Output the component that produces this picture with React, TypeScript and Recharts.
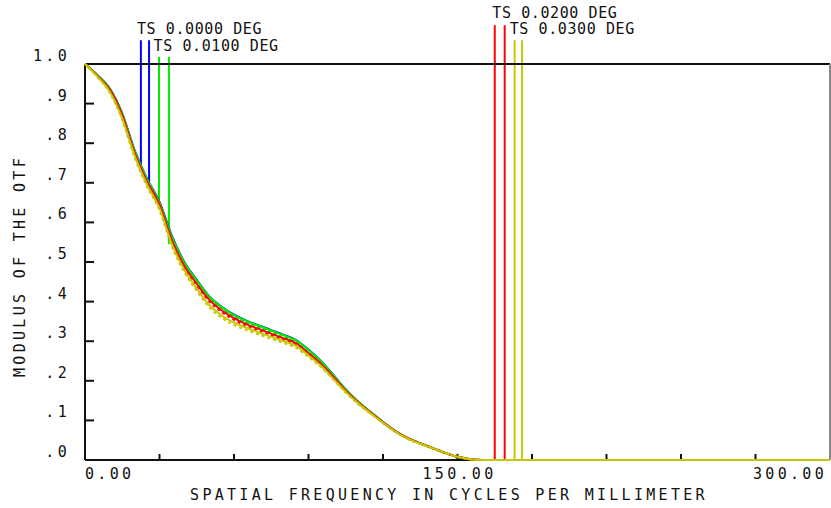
import React from "react";
import {
  ComposedChart,
  Line,
  XAxis,
  YAxis,
  ReferenceLine,
  ReferenceDot,
} from "recharts";

// spatial frequency samples (cycles/mm)
const freq = [0, 5, 10, 15, 20, 25, 30, 35, 40, 45, 50, 55, 60, 65, 70, 75, 80, 85, 90, 95, 100, 105, 110, 115, 120, 125, 130, 135, 140, 145, 150, 155, 160, 300];

// MTF per field, T = tangential, S = sagittal
const blueT = [1.0, 0.972, 0.938, 0.875, 0.782, 0.71, 0.652, 0.566, 0.5, 0.455, 0.414, 0.387, 0.367, 0.352, 0.34, 0.328, 0.316, 0.303, 0.279, 0.25, 0.215, 0.178, 0.147, 0.121, 0.096, 0.073, 0.055, 0.042, 0.03, 0.018, 0.008, 0.002, 0, 0];
const blueS = [1.0, 0.971, 0.936, 0.872, 0.779, 0.707, 0.649, 0.562, 0.497, 0.452, 0.411, 0.384, 0.364, 0.349, 0.337, 0.325, 0.313, 0.3, 0.276, 0.248, 0.213, 0.177, 0.146, 0.12, 0.095, 0.072, 0.055, 0.042, 0.03, 0.018, 0.008, 0.002, 0, 0];
const greenT = [1.0, 0.972, 0.937, 0.874, 0.781, 0.709, 0.65, 0.564, 0.499, 0.454, 0.413, 0.386, 0.366, 0.351, 0.339, 0.327, 0.315, 0.302, 0.278, 0.25, 0.214, 0.178, 0.147, 0.121, 0.096, 0.073, 0.055, 0.042, 0.03, 0.018, 0.008, 0.002, 0, 0];
const greenS = [1.0, 0.97, 0.935, 0.871, 0.777, 0.705, 0.647, 0.56, 0.495, 0.45, 0.409, 0.382, 0.362, 0.347, 0.335, 0.323, 0.311, 0.298, 0.274, 0.247, 0.212, 0.176, 0.146, 0.12, 0.095, 0.072, 0.055, 0.042, 0.03, 0.018, 0.008, 0.002, 0, 0];
const redT = [1.0, 0.97, 0.935, 0.87, 0.775, 0.703, 0.645, 0.555, 0.49, 0.445, 0.405, 0.378, 0.358, 0.343, 0.331, 0.319, 0.307, 0.295, 0.27, 0.243, 0.21, 0.175, 0.145, 0.12, 0.095, 0.073, 0.055, 0.042, 0.03, 0.018, 0.008, 0.002, 0, 0];
const redS = [1.0, 0.969, 0.933, 0.867, 0.772, 0.699, 0.641, 0.551, 0.486, 0.441, 0.401, 0.374, 0.354, 0.339, 0.327, 0.315, 0.303, 0.291, 0.267, 0.241, 0.208, 0.174, 0.144, 0.119, 0.094, 0.072, 0.054, 0.041, 0.03, 0.018, 0.008, 0.002, 0, 0];
const yellowT = [1.0, 0.968, 0.93, 0.862, 0.768, 0.695, 0.636, 0.545, 0.48, 0.433, 0.392, 0.365, 0.347, 0.334, 0.322, 0.311, 0.3, 0.288, 0.264, 0.238, 0.205, 0.172, 0.143, 0.118, 0.094, 0.072, 0.054, 0.041, 0.03, 0.018, 0.008, 0.002, 0, 0];
const yellowS = [1.0, 0.967, 0.927, 0.858, 0.763, 0.69, 0.63, 0.539, 0.474, 0.427, 0.386, 0.359, 0.341, 0.328, 0.317, 0.306, 0.295, 0.283, 0.26, 0.235, 0.203, 0.17, 0.141, 0.117, 0.093, 0.071, 0.053, 0.04, 0.029, 0.018, 0.008, 0.002, 0, 0];

const xTicks = [0, 30, 60, 90, 120, 150, 180, 210, 240, 270, 300];
const yTicks = [0, 0.1, 0.2, 0.3, 0.4, 0.5, 0.6, 0.7, 0.8, 0.9, 1.0];

// legend: field label, colour, marker frequencies and where each marker meets the curve
const fieldLabels = ["TS 0.0000 DEG", "TS 0.0100 DEG", "TS 0.0200 DEG", "TS 0.0300 DEG"];
const fieldColors = ["#0000ff", "#00ee00", "#ff0000", "#c8c800"];
const markerFreq = [[22.5, 25.8], [29.8, 33.8], [165, 169], [173, 176]];
const markerEnd = [[0.745, 0.695], [0.648, 0.545], [0, 0], [0, 0]];
const markerTop = [1.06, 1.018, 1.098, 1.06];
const labelPos = [[20.9, 1.088], [27.6, 1.045], [164, 1.129], [171, 1.088]];

const rows = freq.map((f, i) => ({
  f,
  blueT: blueT[i], blueS: blueS[i],
  greenT: greenT[i], greenS: greenS[i],
  redT: redT[i], redS: redS[i],
  yellowT: yellowT[i], yellowS: yellowS[i],
}));

const series = [
  { key: "blueT", color: fieldColors[0], dash: undefined },
  { key: "blueS", color: fieldColors[0], dash: "3 3" },
  { key: "greenT", color: fieldColors[1], dash: undefined },
  { key: "greenS", color: fieldColors[1], dash: "3 3" },
  { key: "redT", color: fieldColors[2], dash: undefined },
  { key: "redS", color: fieldColors[2], dash: "3 3" },
  { key: "yellowT", color: fieldColors[3], dash: undefined },
  { key: "yellowS", color: fieldColors[3], dash: "3 3" },
];

const mono = "'DejaVu Sans Mono', 'Liberation Mono', monospace";
const axisFont = { fontFamily: mono, fontSize: 15, letterSpacing: 3.3, fill: "#111" };
const legendFont = { fontFamily: mono, fontSize: 15, letterSpacing: 0.6, fill: "#111" };
const axisStroke = { stroke: "#111", strokeWidth: 2 };

const FreqTick = (props: any) => {
  const { x, y, payload } = props;
  const v = payload.value;
  if (v !== 0 && v !== 150 && v !== 300) return <g />;
  const anchor = v === 0 ? "start" : v === 300 ? "end" : "middle";
  const tx = v === 300 ? x + 8 : v === 150 ? x + 2 : x;
  return (
    <text x={tx} y={y} textAnchor={anchor} dominantBaseline="central" style={axisFont}>
      {v.toFixed(2)}
    </text>
  );
};

const ModTick = (props: any) => {
  const { x, y, payload } = props;
  const v = payload.value;
  const txt = v >= 1 ? "1.0" : "." + Math.round(v * 10);
  return (
    <text x={x} y={y - 8} textAnchor="end" dominantBaseline="central" style={axisFont}>
      {txt}
    </text>
  );
};

const XTitle = () => (
  <text x={449} y={495} textAnchor="middle" dominantBaseline="central" style={axisFont}>
    SPATIAL FREQUENCY IN CYCLES PER MILLIMETER
  </text>
);

const YTitle = () => (
  <text x={20} y={266} transform="rotate(-90 20 266)" textAnchor="middle" dominantBaseline="central" style={axisFont}>
    MODULUS OF THE OTF
  </text>
);

const FieldLabel = (text: string) => (p: any) => {
  const vb = p.viewBox || {};
  return (
    <text x={vb.x} y={vb.y} textAnchor="start" dominantBaseline="central" style={legendFont}>
      {text}
    </text>
  );
};

export default function App() {
  return (
    <div style={{ position: "absolute", left: 0, top: 0, width: 831, height: 508, background: "#fff" }}>
      <ComposedChart width={831} height={508} data={rows} margin={{ top: 63, right: 0, bottom: 47, left: 84 }}>
        <XAxis
          dataKey="f"
          type="number"
          domain={[0, 300]}
          ticks={xTicks}
          height={1}
          tickSize={-6}
          tickMargin={20}
          tickLine={axisStroke}
          axisLine={axisStroke}
          tick={<FreqTick />}
          label={<XTitle />}
        />
        <XAxis
          xAxisId="top"
          orientation="top"
          type="number"
          domain={[0, 300]}
          ticks={xTicks}
          height={1}
          tickSize={-8}
          tick={false}
          tickLine={axisStroke}
          axisLine={axisStroke}
        />
        <YAxis
          type="number"
          domain={[0, 1]}
          ticks={yTicks}
          width={1}
          tickSize={-9}
          tickMargin={24}
          tickLine={axisStroke}
          axisLine={axisStroke}
          tick={<ModTick />}
          label={<YTitle />}
        />
        <YAxis
          yAxisId="right"
          orientation="right"
          type="number"
          domain={[0, 1]}
          ticks={yTicks}
          width={1}
          tickSize={-8}
          tick={false}
          tickLine={axisStroke}
          axisLine={{ stroke: "#888", strokeWidth: 2 }}
        />
        {markerFreq.map((pair, i) =>
          pair.map((fx, j) => (
            <ReferenceLine
              key={`m-${i}-${j}`}
              segment={[{ x: fx, y: markerTop[i] }, { x: fx, y: markerEnd[i][j] }]}
              stroke={fieldColors[i]}
              strokeWidth={2}
              ifOverflow="visible"
            />
          ))
        )}
        {fieldLabels.map((t, i) => (
          <ReferenceDot
            key={`l-${i}`}
            x={labelPos[i][0]}
            y={labelPos[i][1]}
            r={0}
            fill="none"
            stroke="none"
            ifOverflow="visible"
            label={{ content: FieldLabel(t) }}
          />
        ))}
        {series.map((s) => (
          <Line
            key={s.key}
            dataKey={s.key}
            type="monotone"
            stroke={s.color}
            strokeWidth={2}
            strokeDasharray={s.dash}
            dot={false}
            isAnimationActive={false}
            zIndex={550}
          />
        ))}
      </ComposedChart>
    </div>
  );
}
